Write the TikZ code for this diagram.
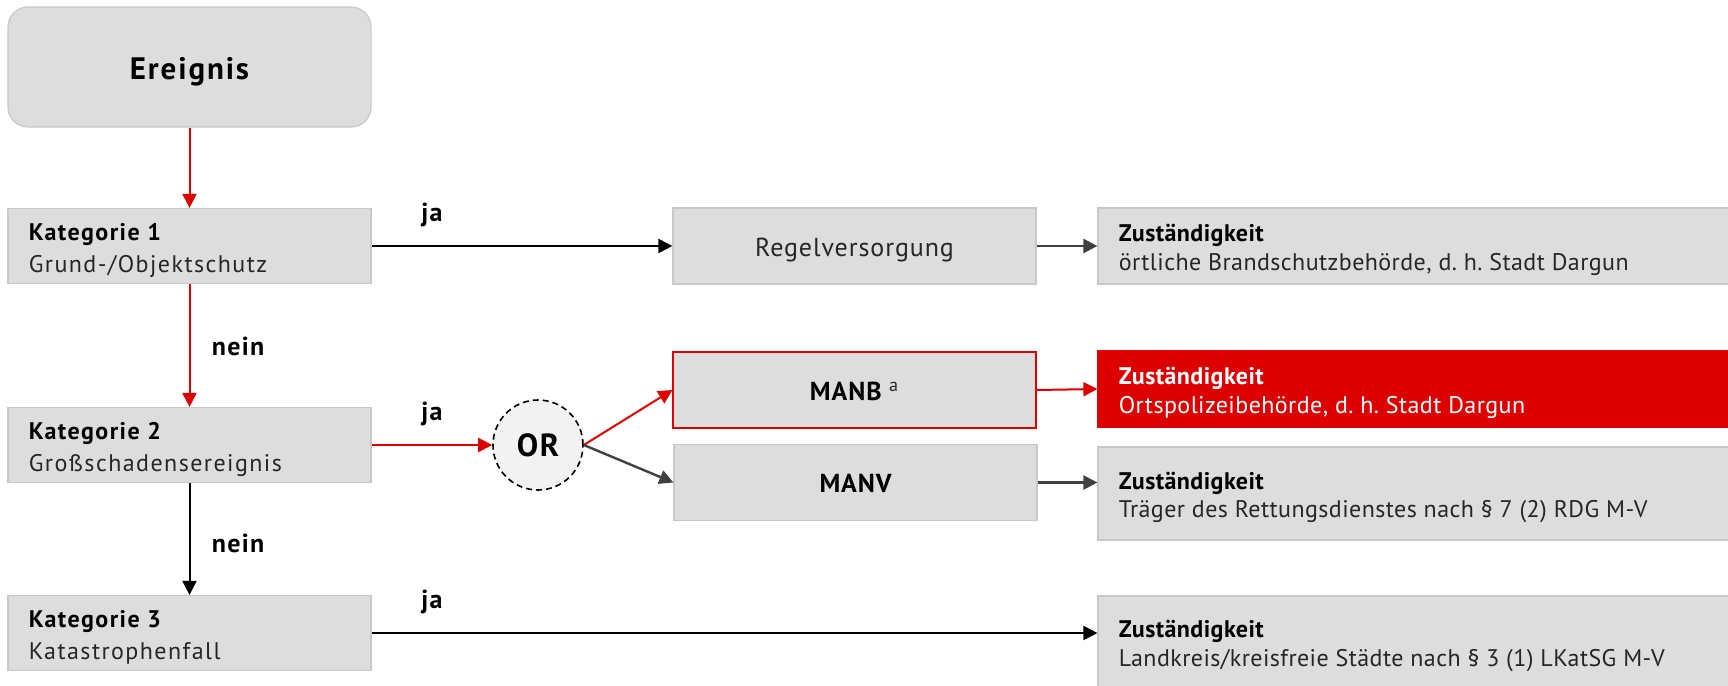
\documentclass[tikz,border=0pt]{standalone}
\usepackage{fontspec}
\setmainfont{PT Sans}
\newfontfamily\katfont[LetterSpace=6]{PT Sans}
\newfontfamily\midfont[LetterSpace=3.5]{PT Sans}
\newfontfamily\bigfont[LetterSpace=5]{PT Sans}
\newfontfamily\zfont[LetterSpace=1.8]{PT Sans}
\usetikzlibrary{arrows.meta}
\definecolor{boxfill}{HTML}{DDDDDD}
\definecolor{boxline}{HTML}{C8C8C8}
\definecolor{dred}{HTML}{DD0000}
\definecolor{dgray}{HTML}{404040}
\definecolor{txtgray}{HTML}{262626}
\definecolor{orfill}{HTML}{F2F2F2}
\frenchspacing
\begin{document}
\begin{tikzpicture}[x=0.5pt,y=-0.5pt,
  box/.style={draw=boxline, fill=boxfill, line width=0.6pt, inner sep=0pt, text=txtgray},
  katbox/.style={box, minimum height=37.5pt, minimum width=181.5pt},
  midbox/.style={box, minimum height=38pt, minimum width=181.5pt,
                 text height=12.5pt, text depth=2.5pt, font=\midfont\fontsize{13}{16}\selectfont},
  zbox/.style={box, minimum width=320pt},
  kath/.style={inner sep=0pt, anchor=base west, text=black, font=\katfont\fontsize{12}{14}\selectfont\bfseries},
  katb/.style={inner sep=0pt, anchor=base west, text=txtgray, font=\katfont\fontsize{12}{14}\selectfont},
  zh/.style={inner sep=0pt, anchor=base west, text=black, font=\zfont\fontsize{12}{14}\selectfont\bfseries},
  zb/.style={inner sep=0pt, anchor=base west, text=txtgray, font=\zfont\fontsize{12}{14}\selectfont},
  lbl/.style={font=\bigfont\fontsize{13}{15}\selectfont\bfseries, text=black, inner sep=0pt},
  tip/.style={-{Triangle[length=7pt,width=7pt]}},
  redarr/.style={tip, draw=dred, line width=1pt},
  blkarr/.style={tip, draw=black, line width=1pt},
  gryarr/.style={tip, draw=dgray, line width=1.2pt}
]
\clip (0,0) rectangle (1728,685);

% left column
\node[box, rounded corners=10pt, minimum width=181.5pt, minimum height=60pt,
      text height=14pt, text depth=2pt,
      font=\katfont\fontsize{15.5}{18}\selectfont\bfseries, text=black] (ereignis) at (189.5,67) {Ereignis};
\node[katbox] (kat1) at (189.5,246) {};
\node[katbox] (kat2) at (189.5,445) {};
\node[katbox] (kat3) at (189.5,633) {};
\node[kath] (kat1h) at ([xshift=10.5pt,yshift=-16.5pt]kat1.north west) {Kategorie 1};
\node[katb] (kat1b) at ([xshift=10.5pt,yshift=-32.5pt]kat1.north west) {Grund-/Objektschutz};
\node[kath] (kat2h) at ([xshift=10.5pt,yshift=-16.5pt]kat2.north west) {Kategorie 2};
\node[katb] (kat2b) at ([xshift=10.5pt,yshift=-32.5pt]kat2.north west) {Großschadensereignis};
\node[kath] (kat3h) at ([xshift=10.5pt,yshift=-16.5pt]kat3.north west) {Kategorie 3};
\node[katb] (kat3b) at ([xshift=10.5pt,yshift=-32.5pt]kat3.north west) {Katastrophenfall};

% middle column
\node[midbox] (regel) at (854.5,246) {Regelversorgung};
\node[midbox, draw=dred] (manb) at (854.5,390) {{\bfseries\color{black}MANB}\,\textsuperscript{\,a}};
\node[midbox] (manv) at (855.5,482.5) {{\bfseries\color{black}MANV}};

% OR
\node[circle, draw=black, dashed, dash pattern=on 3pt off 2pt, line width=0.8pt, fill=orfill,
      minimum size=45pt, inner sep=0pt, text=black,
      font=\bigfont\fontsize{16}{18}\selectfont\bfseries] (or) at (538,445) {OR};

% right column
\node[zbox, minimum height=38pt] (zust1) at (1418,246) {};
\node[zbox, minimum height=38pt, fill=dred, draw=dred] (zust2) at (1418,389) {};
\node[zbox, minimum height=46.5pt] (zust3) at (1418,493.5) {};
\node[zbox, minimum height=52pt] (zust4) at (1418,648) {};
\node[zh] (zust1h) at ([xshift=10.5pt,yshift=-17pt]zust1.north west) {Zuständigkeit};
\node[zb] (zust1b) at ([xshift=10.5pt,yshift=-31.5pt]zust1.north west) {örtliche Brandschutzbehörde, d. h. Stadt Dargun};
\node[zh, text=white] (zust2h) at ([xshift=10.5pt,yshift=-17pt]zust2.north west) {Zuständigkeit};
\node[zb, text=white] (zust2b) at ([xshift=10.5pt,yshift=-31.5pt]zust2.north west) {Ortspolizeibehörde, d. h. Stadt Dargun};
\node[zh] (zust3h) at ([xshift=10.5pt,yshift=-21.5pt]zust3.north west) {Zuständigkeit};
\node[zb] (zust3b) at ([xshift=10.5pt,yshift=-35.5pt]zust3.north west) {Träger des Rettungsdienstes nach § 7 (2) RDG M-V};
\node[zh] (zust4h) at ([xshift=10.5pt,yshift=-21pt]zust4.north west) {Zuständigkeit};
\node[zb] (zust4b) at ([xshift=10.5pt,yshift=-35.5pt]zust4.north west) {Landkreis/kreisfreie Städte nach § 3 (1) LKatSG M-V};

% labels
\node[lbl] (ja1) at (432,215) {ja};
\node[lbl] (ja2) at (432,414) {ja};
\node[lbl] (ja3) at (432,602) {ja};
\node[lbl] (nein1) at (238,346) {nein};
\node[lbl] (nein2) at (238,543) {nein};

% connectors
\draw[redarr] (ereignis) -- (kat1);
\draw[redarr] (kat1) -- (kat2);
\draw[blkarr] (kat2) -- (kat3);
\draw[blkarr] (kat1) -- (regel);
\draw[redarr] (kat2) -- (or);
\draw[redarr] (or.east) -- (manb.west);
\draw[gryarr] (or.east) -- (manv.west);
\draw[gryarr] (regel) -- (regel -| zust1.west);
\draw[redarr] (manb.east) -- (zust2.west);
\draw[gryarr] (manv.east) -- (manv.east -| zust3.west);
\draw[blkarr] (kat3.east) -- (kat3.east -| zust4.west);
\end{tikzpicture}
\end{document}
